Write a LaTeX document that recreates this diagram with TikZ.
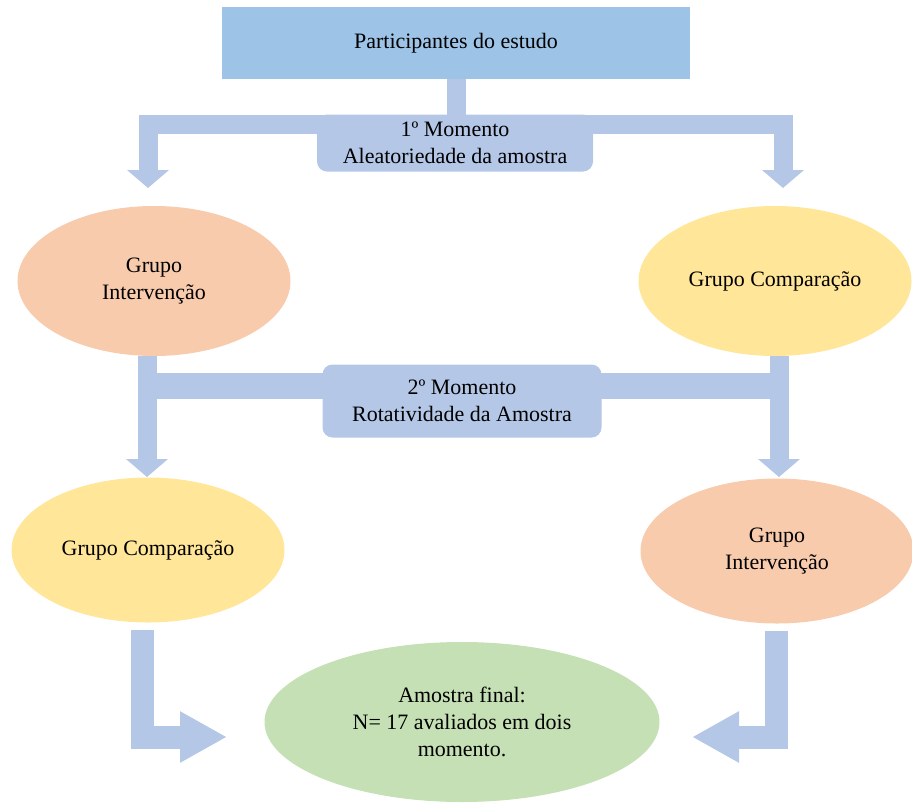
\documentclass[tikz,border=0pt]{standalone}
\usepackage{fontspec}
\setmainfont{Liberation Serif}
\usetikzlibrary{arrows.meta,shapes.geometric,backgrounds}
\definecolor{boxblue}{HTML}{9DC3E6}
\definecolor{pipeblue}{HTML}{B4C7E7}
\definecolor{salmon}{HTML}{F8CBAD}
\definecolor{sand}{HTML}{FFE699}
\definecolor{sage}{HTML}{C5E0B4}
\tikzset{
  group/.style={ellipse, inner sep=0pt, align=center, minimum width=54.6mm, minimum height=30mm},
  moment/.style={rectangle, rounded corners=2mm, fill=pipeblue, inner sep=1pt, align=center},
  pipe/.style={draw=pipeblue, line width=3.8mm},
  headsmall/.style={-{Triangle[width=8.2mm,length=3.6mm]}},
  headbig/.style={-{Triangle[width=9.6mm,length=9.4mm]}}
}
\begin{document}
\begin{tikzpicture}[x=0.2mm, y=-0.2mm, font=\fontsize{12.5}{15.5}\selectfont]
                \useasboundingbox (0,0) rectangle (912,802);
                % boxes and groups
                \node[rectangle, fill=boxblue, minimum width=93.6mm, minimum height=14.2mm] (part) at (456,43) {Participantes do estudo};
                \node[group, fill=salmon] (gi1) at (154,281) {Grupo\\Intervenção};
                \node[group, fill=sand] (gc1) at (775,281) {Grupo Comparação};
                \node[group, fill=sand, minimum height=29mm] (gc2) at (148,550) {Grupo Comparação};
                \node[group, fill=salmon, minimum height=29mm] (gi2) at (777,551) {Grupo\\Intervenção};
                \node[group, fill=sage, minimum width=79mm, minimum height=32mm] (fin) at (462,722) {Amostra final:\\N= 17 avaliados em dois\\momento.};
                % moments
                \node[moment, minimum width=55.2mm, minimum height=11.4mm] (m1) at (455,143) {1º Momento\\Aleatoriedade da amostra};
                \node[moment, minimum width=55.8mm, minimum height=14.6mm] (m2) at (462,401) {2º Momento\\Rotatividade da Amostra};
                % turning points
                \coordinate (b1) at (456,124);
                \coordinate (a1) at (148,188);
                \coordinate (a2) at (783,188);
                \coordinate (l2) at (147,386);
                \coordinate (r2) at (779,386);
                \coordinate (a3) at (147,477);
                \coordinate (a4) at (779,477);
                \coordinate (k1) at (142,737);
                \coordinate (t1) at (227,737);
                \coordinate (k2) at (776,737);
                \coordinate (t2) at (692,737);
                \begin{pgfonlayer}{background}
                % first moment
                \draw[pipe] (part.south) -- (b1);
                \draw[pipe, headsmall] (b1) -| (a1);
                \draw[pipe, headsmall] (b1) -| (a2);
                % second moment
                \draw[pipe, line width=5.2mm] (l2) -- (r2);
                \draw[pipe, headsmall] (gi1.south -| l2) -- (a3);
                \draw[pipe, headsmall] (gc1.south -| r2) -- (a4);
                % final sample
                \draw[pipe, line width=4.6mm, headbig, shorten <=1.4mm] (gc2.south -| k1) -- (k1) -- (t1);
                \draw[pipe, line width=4.6mm, headbig, shorten <=1.4mm] (gi2.south -| k2) -- (k2) -- (t2);
                \end{pgfonlayer}
\end{tikzpicture}
\end{document}
